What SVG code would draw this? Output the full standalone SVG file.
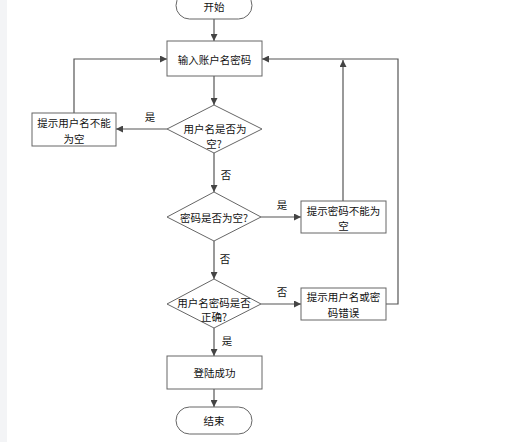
<svg xmlns="http://www.w3.org/2000/svg" width="514" height="442" viewBox="0 0 514 442">
<style>
.s{fill:#fff;stroke:#666;stroke-width:1}
.t{font-family:"Noto Sans CJK SC",sans-serif;font-size:10.5px;fill:#111;text-anchor:middle;dominant-baseline:central}
.c{fill:none;stroke:#555;stroke-width:1.2}
.l{font-family:"Noto Sans CJK SC",sans-serif;font-size:10.5px;fill:#111;text-anchor:middle;dominant-baseline:central}
</style>
<defs>
<marker id="a" viewBox="0 0 10 10" refX="10" refY="5" markerWidth="7" markerHeight="7" markerUnits="userSpaceOnUse" orient="auto"><path d="M0,0L10,5L0,10z" fill="#444"/></marker>
</defs>
<rect x="0" y="0" width="514" height="442" fill="#fff"/>
<rect x="0" y="0" width="7" height="442" fill="#f3f4f6"/>
<g id="connectors">
<path class="c" d="M214,19V41" marker-end="url(#a)"/>
<path class="c" d="M214,76V105" marker-end="url(#a)"/>
<path class="c" d="M167,129H116" marker-end="url(#a)"/>
<path class="c" d="M74,113V59H167" marker-end="url(#a)"/>
<path class="c" d="M214,153V192" marker-end="url(#a)"/>
<path class="c" d="M261,217H301" marker-end="url(#a)"/>
<path class="c" d="M343,201V60" marker-end="url(#a)"/>
<path class="c" d="M214,241V279" marker-end="url(#a)"/>
<path class="c" d="M261,304H301" marker-end="url(#a)"/>
<path class="c" d="M386,304H398V59H262" marker-end="url(#a)"/>
<path class="c" d="M214,328V356" marker-end="url(#a)"/>
<path class="c" d="M214,389V407" marker-end="url(#a)"/>
<text class="l" x="150" y="116">是</text>
<text class="l" x="226" y="174">否</text>
<text class="l" x="282" y="204">是</text>
<text class="l" x="225" y="258">否</text>
<text class="l" x="282" y="291">否</text>
<text class="l" x="227" y="340">是</text>
</g>
<g id="start">
<rect class="s" x="176" y="-8" width="76" height="27" rx="13.5"/>
<text class="t" x="214" y="6">开始</text>
</g>
<g id="input">
<rect class="s" x="167" y="41" width="95" height="35"/>
<text class="t" x="214.5" y="59">输入账户名密码</text>
</g>
<g id="d1">
<polygon class="s" points="214,105 262,129 214,153 167,129"/>
<text class="t" x="215" y="128">用户名是否为</text>
<text class="t" x="214" y="143">空?</text>
</g>
<g id="b1">
<rect class="s" x="32" y="113" width="84" height="33"/>
<text class="t" x="74" y="122">提示用户名不能</text>
<text class="t" x="74" y="138">为空</text>
</g>
<g id="d2">
<polygon class="s" points="214,192 261,217 214,241 167,217"/>
<text class="t" x="214" y="217">密码是否为空?</text>
</g>
<g id="b2">
<rect class="s" x="301" y="201" width="85" height="32"/>
<text class="t" x="343.5" y="210">提示密码不能为</text>
<text class="t" x="343.5" y="225">空</text>
</g>
<g id="d3">
<polygon class="s" points="214,279 261,304 214,328 167,304"/>
<text class="t" x="214" y="302">用户名密码是否</text>
<text class="t" x="214" y="316">正确?</text>
</g>
<g id="b3">
<rect class="s" x="301" y="288" width="85" height="32"/>
<text class="t" x="343.5" y="296">提示用户名或密</text>
<text class="t" x="343.5" y="312">码错误</text>
</g>
<g id="ok">
<rect class="s" x="167" y="356" width="95" height="33"/>
<text class="t" x="214.5" y="372">登陆成功</text>
</g>
<g id="end">
<rect class="s" x="176" y="407" width="76" height="27" rx="13.5"/>
<text class="t" x="214" y="420">结束</text>
</g>
</svg>
